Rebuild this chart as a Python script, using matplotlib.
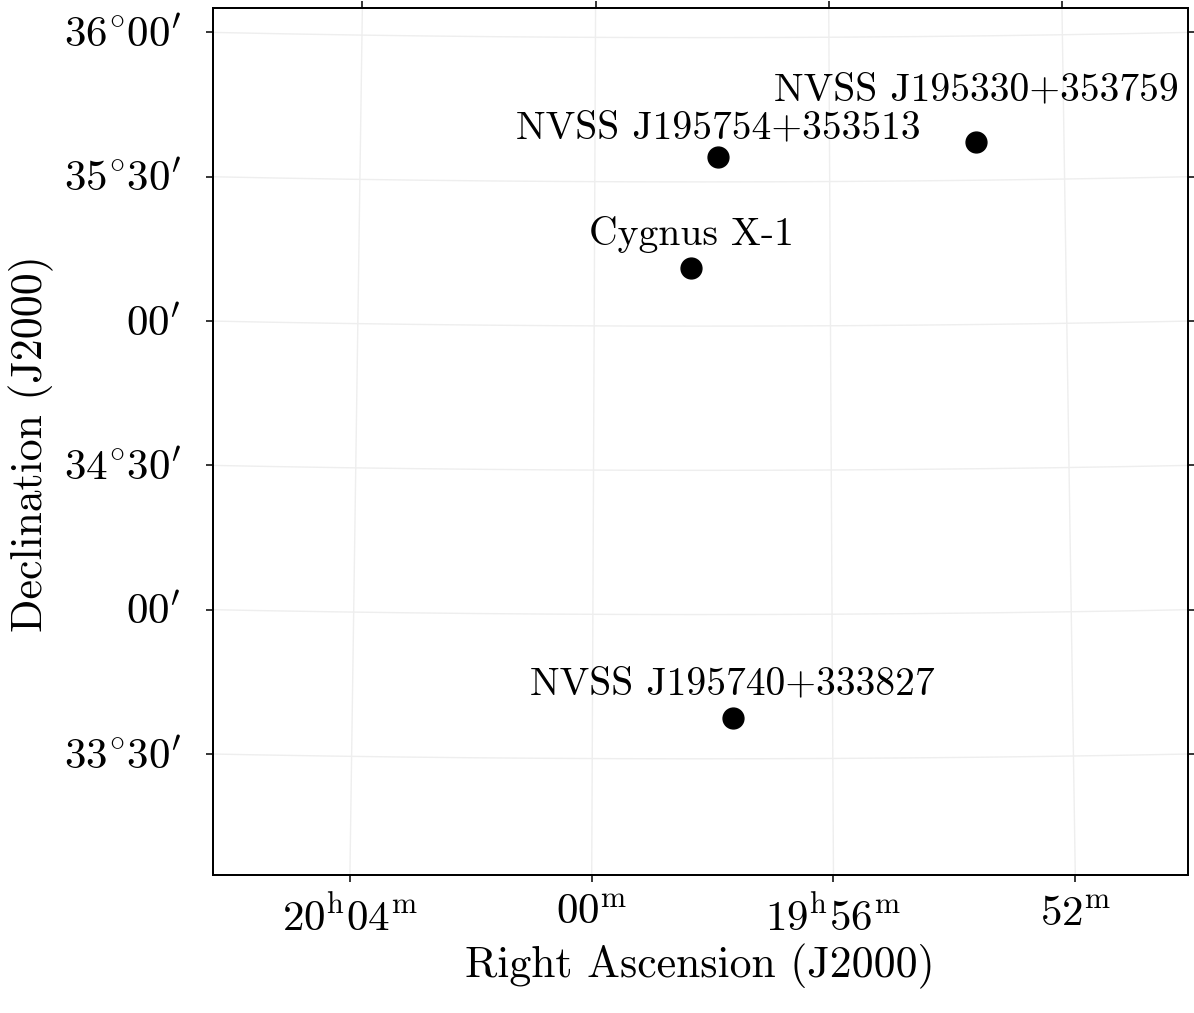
import numpy as np
import matplotlib
matplotlib.use("Agg")
import matplotlib.pyplot as plt

plt.rcParams["font.family"] = ["cmr10", "DejaVu Serif"]
plt.rcParams["mathtext.fontset"] = "cm"
plt.rcParams["axes.unicode_minus"] = False

# sources (J2000)
names = ["Cygnus X-1", "NVSS J195754+353513", "NVSS J195330+353759", "NVSS J195740+333827"]
ra_h = [19, 19, 19, 19]
ra_m = [58, 57, 53, 57]
ra_s = [21.68, 54.0, 30.0, 40.0]
dec_d = [35, 35, 35, 33]
dec_m = [12, 35, 37, 38]
dec_s = [5.8, 13.0, 59.0, 27.0]

# grid / tick values
ra_ticks_min = [20 * 60 + 4, 20 * 60, 19 * 60 + 56, 19 * 60 + 52]  # minutes of RA
ra_tick_labels = [r"$20^{\mathrm{h}}04^{\mathrm{m}}$", r"$00^{\mathrm{m}}$",
                  r"$19^{\mathrm{h}}56^{\mathrm{m}}$", r"$52^{\mathrm{m}}$"]
dec_ticks = [36.0, 35.5, 35.0, 34.5, 34.0, 33.5]
deg = r"^{\!\circ}\hspace{-0.17}"
dec_tick_labels = [r"$36" + deg + r"00^{\prime}$", r"$35" + deg + r"30^{\prime}$", r"$00^{\prime}$",
                   r"$34" + deg + r"30^{\prime}$", r"$00^{\prime}$", r"$33" + deg + r"30^{\prime}$"]

# label offset above marker (points)
label_dy = [16.5, 13, 30, 17]

# TAN projection centre
ra0 = (19 + 58 / 60 + 12 / 3600) * 15
dec0 = 34.60
half_w = 1.690
half_h = 1.503


def tan_proj(ra, dec):
    a = np.radians(np.asarray(ra) - ra0)
    d = np.radians(np.asarray(dec))
    d0 = np.radians(dec0)
    cosc = np.sin(d0) * np.sin(d) + np.cos(d0) * np.cos(d) * np.cos(a)
    xi = np.cos(d) * np.sin(a) / cosc
    eta = (np.cos(d0) * np.sin(d) - np.sin(d0) * np.cos(d) * np.cos(a)) / cosc
    return np.degrees(xi), np.degrees(eta)


ra_src = [(h + m / 60 + s / 3600) * 15 for h, m, s in zip(ra_h, ra_m, ra_s)]
dec_src = [d + m / 60 + s / 3600 for d, m, s in zip(dec_d, dec_m, dec_s)]

W, H = 1194, 1013
fig = plt.figure(figsize=(W / 100, H / 100), dpi=100)
ax = fig.add_axes([213 / W, 1 - 875 / H, 975 / W, 867 / H])
ax.set_xlim(half_w, -half_w)
ax.set_ylim(-half_h, half_h)

# grid
dec_line = np.linspace(32.0, 37.5, 400)
ra_line = np.linspace(ra0 - 4, ra0 + 4, 400)
bot_x, top_x = [], []
for m in ra_ticks_min:
    ra = m / 60 * 15
    xi, eta = tan_proj(np.full_like(dec_line, ra), dec_line)
    ax.plot(xi, eta, color="#eeeeee", lw=1.0, zorder=1)
    bot_x.append(np.interp(-half_h, eta, xi))
    top_x.append(np.interp(half_h, eta, xi))
left_y, right_y = [], []
for dd in dec_ticks:
    xi, eta = tan_proj(ra_line, np.full_like(ra_line, dd))
    ax.plot(xi, eta, color="#eeeeee", lw=1.0, zorder=1)
    left_y.append(np.interp(half_w, xi, eta))
    right_y.append(np.interp(-half_w, xi, eta))

# sources
xs, ys = tan_proj(ra_src, dec_src)
ax.plot(xs, ys, "o", color="black", ms=15, zorder=3, ls="none")
for name, x, y, dy in zip(names, xs, ys, label_dy):
    ax.annotate(name, (x, y), xytext=(0, dy), textcoords="offset points",
                ha="center", va="baseline", fontsize=28.5, zorder=4)

ax.set_xticks(bot_x)
ax.set_xticklabels(ra_tick_labels)
ax.set_yticks(left_y)
ax.set_yticklabels(dec_tick_labels)
ax.tick_params(direction="out", length=5, width=1.1, labelsize=31)
ax.tick_params(axis="x", pad=10)
ax.tick_params(axis="y", pad=18)

axt = ax.twiny()
axt.set_xlim(ax.get_xlim())
axt.set_xticks(top_x)
axt.set_xticklabels([])
axt.tick_params(direction="out", length=5, width=1.1)

axr = ax.twinx()
axr.set_ylim(ax.get_ylim())
axr.set_yticks(right_y)
axr.set_yticklabels([])
axr.tick_params(direction="out", length=5, width=1.1)

for a in (ax, axt, axr):
    for sp in a.spines.values():
        sp.set_linewidth(1.2)

ax.set_xlabel("Right Ascension (J2000)", fontsize=31.5)
ax.set_ylabel("Declination (J2000)", fontsize=31.5)
ax.xaxis.set_label_coords(0.499, -0.079)
ax.yaxis.set_label_coords(-0.163, 0.498)

fig.savefig("out.png", dpi=100)
